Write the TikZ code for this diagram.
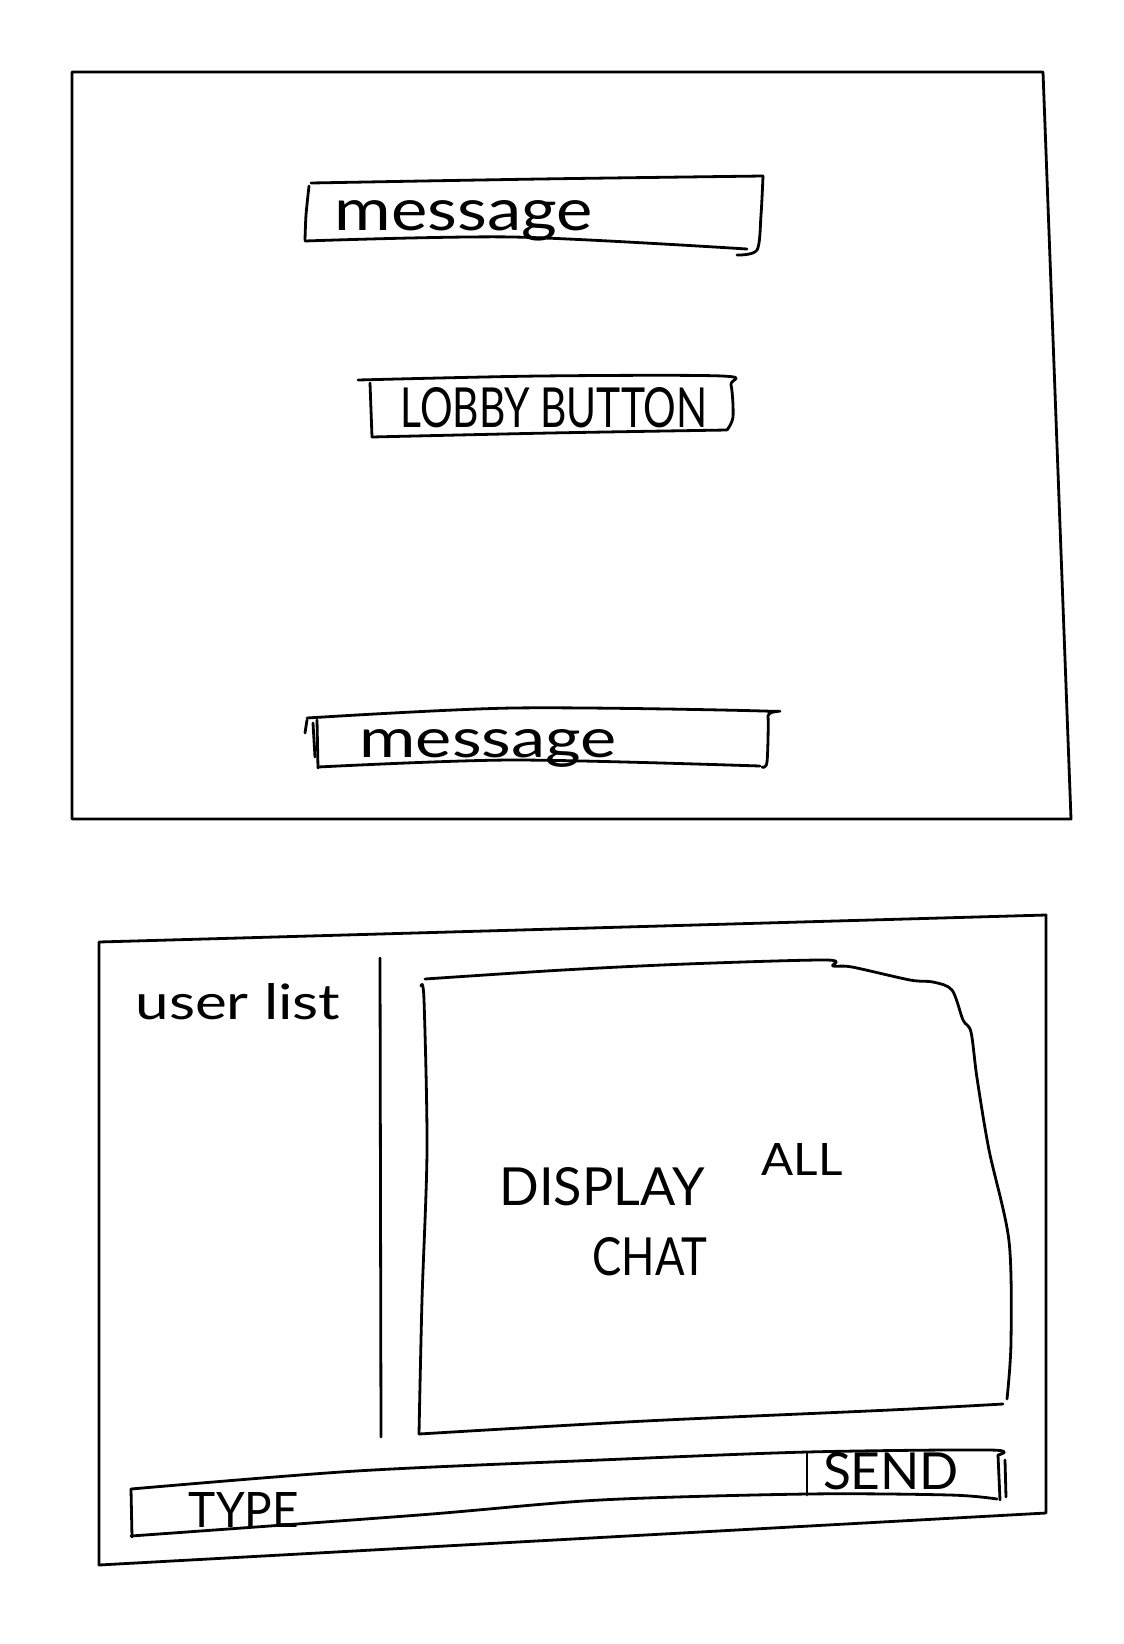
\documentclass[tikz,border=0pt]{standalone}
\usepackage{graphicx}
\usepackage{fontspec}
\setmainfont{Lato}
\newcommand{\skfit}[3]{\resizebox{#1pt}{#2pt}{#3}}
\tikzset{
  pen/.style={line width=2.8pt, line cap=round, line join=round, black},
  hand/.style={inner sep=0pt, anchor=base}
}
\begin{document}
\begin{tikzpicture}[x=1pt,y=-1pt]
\useasboundingbox[fill=white] (0,0) rectangle (1124,1644);
% ---------- top screen ----------
\draw[pen] (72,72) -- (1043,72) -- (1071,819) -- (72,819) -- cycle;
% message box 1
\draw[pen] plot[smooth] coordinates {(311,183) (540,179) (763,176)};
\draw[pen] plot[smooth] coordinates {(309,186) (306,215) (305,240)};
\draw[pen] plot[smooth] coordinates {(305,241) (513,237) (747,249)};
\draw[pen] plot[smooth] coordinates {(763,176) (761,215) (757,250) (737,255)};
\node[hand] (msgA) at (464,230) {\skfit{258}{30}{message}};
% lobby button
\draw[pen] plot[smooth] coordinates {(358,380) (540,376) (722,376) (731,385) (733,417) (727,430)};
\draw[pen] plot[smooth] coordinates {(727,430) (550,433) (372,437)};
\draw[pen] (370,383) -- (372,437);
\node[hand] (lobby) at (554,427) {\skfit{307}{40}{LOBBY BUTTON}};
% message box 2
\draw[pen] plot[smooth] coordinates {(307,718) (513,708) (763,711) (768,716) (767,762) (762,767)};
\draw[pen] plot[smooth] coordinates {(760,766) (513,760) (318,767)};
\draw[pen] (317,720) -- (318,768);
\draw[pen] (307,720) -- (305,733);
\draw[pen] (313,723) -- (315,757);
\node[hand] (msgB) at (488,757) {\skfit{257}{28}{message}};
% ---------- bottom screen ----------
\draw[pen] (99,942) -- (1046,915) -- (1046,1513) -- (99,1565) -- cycle;
\draw[pen] (380,958) -- (381,1437);
\node[hand] (users) at (238,1019) {\skfit{205}{36}{user list}};
% display box
\draw[pen] plot[smooth] coordinates {(425,979) (563,970) (686,964) (826,960) (833,966) (852,967) (910,980) (933,982) (952,990) (963,1020) (971,1032) (977,1078) (989,1150) (1009,1241) (1011,1342) (1007,1399)};
\draw[pen] plot[smooth] coordinates {(1003,1404) (890,1410) (645,1421) (419,1434)};
\draw[pen] plot[smooth] coordinates {(419,1434) (422,1300) (427,1150) (424,1000) (421,986)};
\node[hand] (disp) at (602,1205) {\skfit{205}{38}{DISPLAY}};
\node[hand] (all) at (802,1175) {\skfit{81}{32}{ALL}};
\node[hand] (chat) at (650,1275) {\skfit{115}{38}{CHAT}};
% type bar
\draw[pen] plot[smooth] coordinates {(131,1489) (356,1471) (600,1460) (807,1452) (990,1450) (998,1455)};
\draw[pen] (998,1455) -- (1000,1500);
\draw[pen] (1005,1460) -- (1006,1497);
\draw[pen] plot[smooth] coordinates {(997,1499) (950,1495) (807,1494) (600,1500) (419,1515) (131,1536)};
\draw[pen] (131,1489) -- (132,1537);
\draw[pen] (807,1453) -- (807,1495);
\node[hand] (type) at (244,1527) {\skfit{110}{35}{TYPE}};
\node[hand] (send) at (891,1489) {\skfit{136}{37}{SEND}};
\end{tikzpicture}
\end{document}
